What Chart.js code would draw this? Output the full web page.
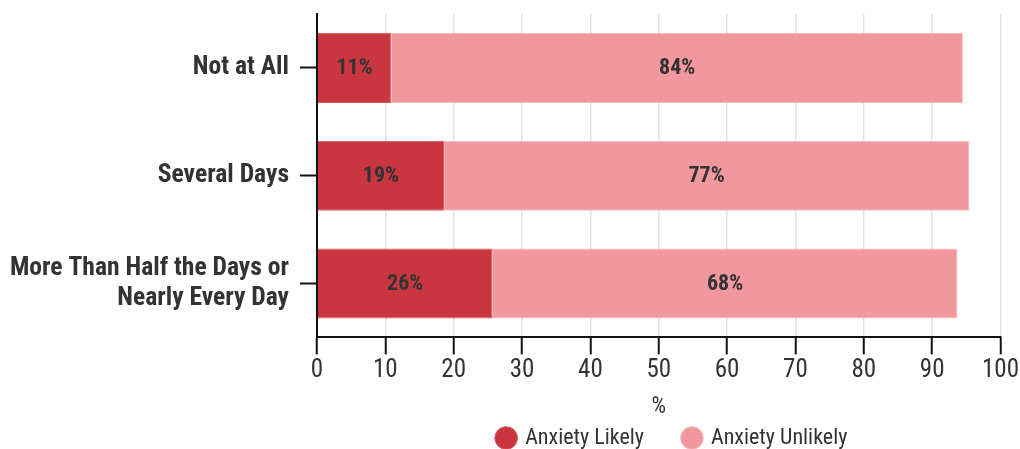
<!DOCTYPE html>
<html>
<head>
<meta charset="utf-8">
<script src="https://cdn.jsdelivr.net/npm/chart.js@4"></script>
<style>
  html, body { margin: 0; padding: 0; background: #fff; }
  #wrap { width: 1020px; height: 449px; position: relative; }
</style>
</head>
<body>
<div id="wrap"><canvas id="chart"></canvas></div>
<script>
// data
const categories = [
  'Not at All',
  'Several Days',
  ['More Than Half the Days or', 'Nearly Every Day'],
];
const anxietyLikely = [10.9, 18.6, 25.7];
const anxietyUnlikely = [83.6, 76.8, 68.0];
const xTicks = [0, 10, 20, 30, 40, 50, 60, 70, 80, 90, 100];

const FONT = "'Roboto Condensed', 'Liberation Sans Narrow', 'DejaVu Sans Condensed', sans-serif";
const TEXT = '#333333';

// writes the rounded value in the middle of each bar segment
const barLabels = {
  id: 'barLabels',
  afterDatasetsDraw(chart) {
    const ctx = chart.ctx;
    ctx.save();
    ctx.font = 'bold 22px ' + FONT;
    ctx.fillStyle = TEXT;
    ctx.textAlign = 'center';
    ctx.textBaseline = 'middle';
    chart.data.datasets.forEach((ds, i) => {
      chart.getDatasetMeta(i).data.forEach((bar, j) => {
        const mid = (bar.x + bar.base) / 2;
        ctx.fillText(Math.round(ds.data[j]) + '%', mid, bar.y + 1);
      });
    });
    ctx.restore();
  },
};

// the legend sits a little right of the plot centre in the original
const nudgeLegend = {
  id: 'nudgeLegend',
  afterLayout(chart) {
    chart.legend.left += 14;
    chart.legend.right += 14;
  },
};

new Chart(document.getElementById('chart'), {
  type: 'bar',
  data: {
    labels: categories,
    datasets: [
      {
        label: 'Anxiety Likely',
        data: anxietyLikely,
        backgroundColor: '#c93640',
        borderColor: '#d4585f',
        borderWidth: 1,
        barPercentage: 0.65,
        categoryPercentage: 1,
      },
      {
        label: 'Anxiety Unlikely',
        data: anxietyUnlikely,
        backgroundColor: '#f1979e',
        borderColor: '#f6b9be',
        borderWidth: 1,
        barPercentage: 0.65,
        categoryPercentage: 1,
      },
    ],
  },
  options: {
    indexAxis: 'y',
    responsive: true,
    maintainAspectRatio: false,
    animation: false,
    layout: { padding: { top: 14, right: 3, left: 4, bottom: -10 } },
    plugins: {
      tooltip: { enabled: false },
      legend: {
        position: 'bottom',
        fullSize: false,
        labels: {
          usePointStyle: true,
          pointStyle: 'circle',
          boxWidth: 16,
          boxHeight: 16,
          padding: 40,
          color: TEXT,
          font: { family: FONT, size: 22 },
        },
      },
    },
    scales: {
      x: {
        stacked: true,
        min: 0,
        max: 100,
        afterBuildTicks: axis => { axis.ticks = xTicks.map(v => ({ value: v })); },
        border: { color: '#111', width: 2 },
        grid: { color: '#e3e3e3', lineWidth: 1.5, tickColor: '#111', tickLength: 17, tickWidth: 2 },
        ticks: { color: TEXT, padding: 1, font: { family: FONT, size: 25 } },
        title: { display: true, text: '%', color: TEXT, padding: { top: 7, bottom: -34 }, font: { family: FONT, size: 23 } },
      },
      y: {
        stacked: true,
        border: { color: '#111', width: 2 },
        grid: { offset: false, drawOnChartArea: false, tickColor: '#111', tickLength: 17, tickWidth: 2 },
        ticks: { color: TEXT, padding: 11, font: { family: FONT, size: 25.6, weight: 'bold', lineHeight: 1.17 } },
        afterFit: axis => { axis.width = 313; axis.paddingTop = 0; axis.paddingBottom = 0; },
      },
    },
  },
  plugins: [barLabels, nudgeLegend],
});
</script>
</body>
</html>
